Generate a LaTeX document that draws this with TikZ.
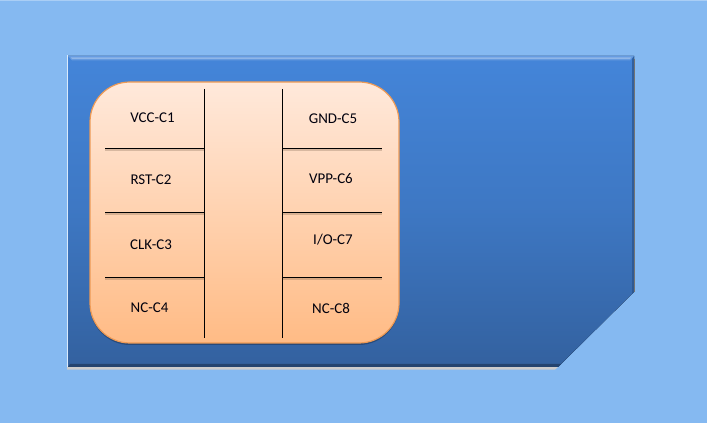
\documentclass[tikz,border=0pt]{standalone}
\usepackage{fontspec}
\setmainfont{Carlito}
\usepackage{tikz}
\usetikzlibrary{calc,positioning}
\definecolor{skyback}{HTML}{85B9F1}
\definecolor{cardtop}{HTML}{4485D9}
\definecolor{cardlow}{HTML}{33619F}
\definecolor{chiptop}{HTML}{FFE9DB}
\definecolor{chiplow}{HTML}{FFBB85}
\definecolor{chipedge}{HTML}{EE9A55}
\tikzstyle{pinlabel} = [font=\fontsize{11.2pt}{13pt}\selectfont,text=black!95!blue,inner sep=0pt]
\tikzstyle{divider}  = [line width=0.8pt,black]
\tikzstyle{dropline} = [line width=1.5pt,black!60!chiplow,opacity=0.25]

\begin{document}
\begin{tikzpicture}[x=0.75pt,y=-0.75pt]
    \useasboundingbox (0,0) rectangle (707,423);
    \fill[skyback] (0,0) rectangle (707,423);
    \fill[skyback!70!white] (0,0) rectangle (707,1);
    % card with the cut corner
    \coordinate (TL) at (68,56);
    \coordinate (TR) at (634,56);
    \coordinate (CR) at (634,292);
    \coordinate (CB) at (558,367);
    \coordinate (BL) at (68,367);
    \fill[white!80!black] ($(BL)+(-1,0)$) -- ($(BL)+(-1,2.6)$) -- ($(CB)+(-3,2.6)$) -- (CB) -- cycle;
    \fill[top color=cardtop,bottom color=cardlow,middle color=cardtop!62!cardlow] (TL) -- (TR) -- (CR) -- (CB) -- (BL) -- cycle;
    % bevel of the card
    \fill[cardtop!82!white] (TL) -- (TR) -- ($(TR)+(-4,4.5)$) -- ($(TL)+(4,4.5)$) -- cycle;
    \fill[cardtop!60!white] ($(TL)+(3,1.5)$) -- ($(TR)+(-3,1.5)$) -- ($(TR)+(-4,3)$) -- ($(TL)+(4,3)$) -- cycle;
    \fill[cardlow!70!black] (BL) -- (CB) -- ($(CB)+(3,-3)$) -- ($(BL)+(2,-3)$) -- cycle;
    \fill[cardlow!85!black,opacity=0.7] (TR) -- (CR) -- ($(CR)+(-2,2)$) -- ($(TR)+(-2,3)$) -- cycle;
    \draw[white!70!skyback,line width=0.8pt] ($(BL)+(-0.5,0)$) -- ($(TL)+(-0.5,-0.5)$);
    \draw[black!10!gray,line width=0.7pt] ($(TR)+(0.3,3)$) -- ($(CR)+(0.3,0)$);
    % chip
    \draw[fill=black,opacity=0.25,rounded corners=30pt,draw=none] (90,84) rectangle (399,345);
    \draw[chipedge,line width=0.9pt,top color=chiptop,bottom color=chiplow,rounded corners=30pt] (90,82) rectangle (399,343);
    \foreach \n/\y in {1/148.5,2/212.5,3/277.5}
    {
        \coordinate (LA\n) at (105,\y);
        \coordinate (LB\n) at (204.5,\y);
        \coordinate (RA\n) at (282.5,\y);
        \coordinate (RB\n) at (382,\y);
        \draw[dropline] ($(LA\n)+(0,2)$) -- ($(LB\n)+(0,2)$);
        \draw[dropline] ($(RA\n)+(0,2)$) -- ($(RB\n)+(0,2)$);
        \draw[divider] (LA\n) -- (LB\n);
        \draw[divider] (RA\n) -- (RB\n);
    }
    \coordinate (VA) at (204.5,89);
    \coordinate (VB) at (204.5,338);
    \coordinate (WA) at (282.5,89);
    \coordinate (WB) at (282.5,338);
    \draw[divider] (VA) -- (VB);
    \draw[divider] (WA) -- (WB);
    % pin names
    \node[pinlabel] (C1) at (152.5,118) {VCC-C1};
    \node[pinlabel] (C2) at (151,179.5) {RST-C2};
    \node[pinlabel] (C3) at (151,245) {CLK-C3};
    \node[pinlabel] (C4) at (149.5,308) {NC-C4};
    \node[pinlabel] (C5) at (333,119) {GND-C5};
    \node[pinlabel] (C6) at (331,179) {VPP-C6};
    \node[pinlabel] (C7) at (333,240) {I/O-C7};
    \node[pinlabel] (C8) at (331,308) {NC-C8};
\end{tikzpicture}
\end{document}
